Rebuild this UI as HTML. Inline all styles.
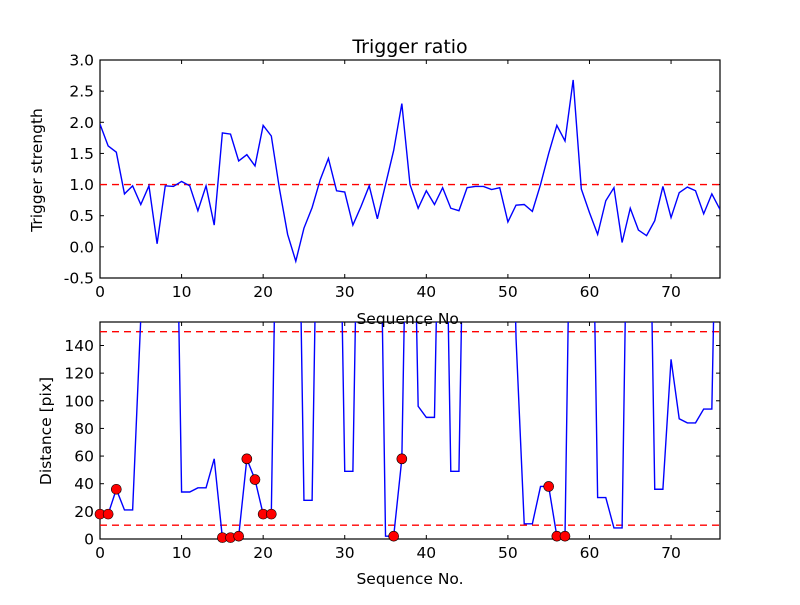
<!DOCTYPE html>
<html><head><meta charset="utf-8"><style>
body{margin:0;background:#fff}
svg{font-family:"DejaVu Sans","Liberation Sans",sans-serif}
</style></head><body>
<svg id="c" width="800" height="600" viewBox="0 0 800 600"></svg>
<script>
const topValues=[1.97,1.62,1.52,0.85,0.98,0.68,0.98,0.05,0.98,0.97,1.05,0.98,0.58,0.98,0.35,1.83,1.81,1.38,1.48,1.3,1.95,1.78,0.93,0.2,-0.23,0.3,0.63,1.08,1.42,0.9,0.88,0.35,0.65,0.98,0.45,1.0,1.55,2.3,1.0,0.62,0.9,0.68,0.95,0.62,0.58,0.95,0.97,0.97,0.92,0.95,0.4,0.67,0.68,0.57,1.0,1.5,1.95,1.7,2.68,0.93,0.55,0.2,0.74,0.95,0.07,0.62,0.27,0.18,0.42,0.97,0.47,0.87,0.96,0.9,0.53,0.85,0.6];
const distValues=[18,18,36,21,21,160,400,400,400,400,34,34,37,37,58,1,1,2,58,43,18,18,400,400,400,28,28,400,400,400,49,49,400,400,400,2,2,58,400,96,88,88,400,49,49,400,400,400,400,400,400,145,11,11,38,38,2,2,400,400,400,30,30,8,8,400,400,400,36,36,130,87,84,84,94,94,400];
const markedIdx=[0,1,2,15,16,17,18,19,20,21,36,37,55,56,57];
const xTicks=[0,10,20,30,40,50,60,70];
const topYTicks=[-0.5,0.0,0.5,1.0,1.5,2.0,2.5,3.0];
const botYTicks=[0,20,40,60,80,100,120,140];
const topThreshold=[1.0];
const botThresholds=[10,150];

const NS="http://www.w3.org/2000/svg";
const svg=document.getElementById('c');
function el(t,a,p){const e=document.createElementNS(NS,t);for(const k in a)e.setAttribute(k,a[k]);(p||svg).appendChild(e);return e;}
const L=100,R=720;
const xs=v=>L+(v-0)/(76-0)*(R-L);
const T={t:60,b:278,min:-0.5,max:3.0};
const B={t:322,b:539,min:0,max:157};
const ys=(ax,v)=>ax.b-(v-ax.min)/(ax.max-ax.min)*(ax.b-ax.t);

const defs=el('defs',{});
[['clipT',T],['clipB',B]].forEach(([id,ax])=>{const cp=el('clipPath',{id:id},defs);el('rect',{x:L,y:ax.t,width:R-L,height:ax.b-ax.t},cp);});

function axes(ax,yt,fmt,name){
  const g=el('g',{});
  
  
  xTicks.forEach(v=>{const x=xs(v);
    el('line',{x1:x,y1:ax.b,x2:x,y2:ax.b-4,stroke:'#000'},g);
    el('line',{x1:x,y1:ax.t,x2:x,y2:ax.t+4,stroke:'#000'},g);
    const t=el('text',{x:x,y:ax.b+19,'text-anchor':'middle','font-size':15.5},g);t.textContent=v;
    });
  yt.forEach(v=>{const y=ys(ax,v);
    el('line',{x1:L,y1:y,x2:L+4,y2:y,stroke:'#000'},g);
    el('line',{x1:R,y1:y,x2:R-4,y2:y,stroke:'#000'},g);
    const t=el('text',{x:L-6,y:y+5.5,'text-anchor':'end','font-size':15.5},g);t.textContent=fmt(v);
    });
  el('rect',{x:L,y:ax.t,width:R-L,height:ax.b-ax.t,fill:'none',stroke:'#000','stroke-width':1.2},g);
}
axes(T,topYTicks,v=>v.toFixed(1),'top');
axes(B,botYTicks,v=>String(v),'bottom');

const gT=el('g',{'clip-path':'url(#clipT)'});
topThreshold.forEach(v=>{const l=el('line',{x1:L,x2:R,y1:ys(T,v),y2:ys(T,v),stroke:'#f00','stroke-dasharray':'7,5','stroke-width':1.3},gT);
  });
const pT=el('polyline',{points:topValues.map((v,i)=>xs(i)+','+ys(T,v)).join(' '),fill:'none',stroke:'#00f','stroke-width':1.4},gT);


const gB=el('g',{'clip-path':'url(#clipB)'});
botThresholds.forEach(v=>{const l=el('line',{x1:L,x2:R,y1:ys(B,v),y2:ys(B,v),stroke:'#f00','stroke-dasharray':'7,5','stroke-width':1.3},gB);
  });
const pB=el('polyline',{points:distValues.map((v,i)=>xs(i)+','+ys(B,v)).join(' '),fill:'none',stroke:'#00f','stroke-width':1.4},gB);

const gM=el('g',{});
markedIdx.forEach(i=>{const c=el('circle',{cx:xs(i),cy:ys(B,distValues[i]),r:5,fill:'#f00',stroke:'#000','stroke-width':0.6},gM);
  });

function txt(x,y,s,size,name,rot){const t=el('text',{x:x,y:y,'text-anchor':'middle','font-size':size});
  if(rot)t.setAttribute('transform','rotate(-90 '+x+' '+y+')');t.textContent=s;
  }
txt(410,53,'Trigger ratio',19,'chart-title');
txt(410,324,'Sequence No.',15.5,'top-x-axis-title');
txt(410,584,'Sequence No.',15.5,'bottom-x-axis-title');
txt(42,170,'Trigger strength',15.5,'top-y-axis-title',true);
txt(51,431,'Distance [pix]',15.5,'bottom-y-axis-title',true);
</script>
</body></html>
